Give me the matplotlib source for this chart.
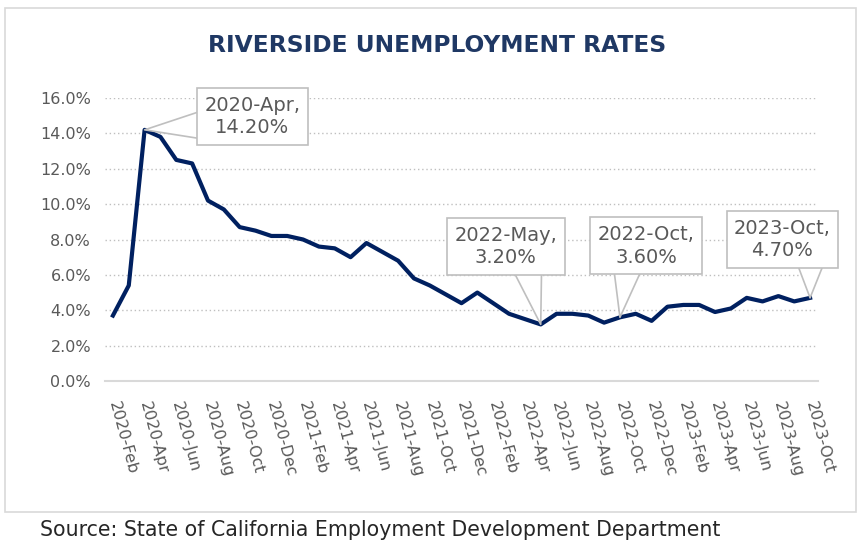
import matplotlib
matplotlib.use('Agg')
from matplotlib import pyplot as plt
from matplotlib.patches import Rectangle

# monthly rates, 2020-Feb .. 2023-Oct
months = ['Jan', 'Feb', 'Mar', 'Apr', 'May', 'Jun',
          'Jul', 'Aug', 'Sep', 'Oct', 'Nov', 'Dec']
rates2020 = [3.7, 5.4, 14.2, 13.8, 12.5, 12.3, 10.2, 9.7, 8.7, 8.5, 8.2]
rates2021 = [8.2, 8.0, 7.6, 7.5, 7.0, 7.8, 7.3, 6.8, 5.8, 5.4, 4.9, 4.4]
rates2022 = [5.0, 4.4, 3.8, 3.5, 3.2, 3.8, 3.8, 3.7, 3.3, 3.6, 3.8, 3.4]
rates2023 = [4.2, 4.3, 4.3, 3.9, 4.1, 4.7, 4.5, 4.8, 4.5, 4.7]

rates = rates2020 + rates2021 + rates2022 + rates2023
labels = []
for year, start, count in [(2020, 1, 11), (2021, 0, 12), (2022, 0, 12), (2023, 0, 10)]:
    for m in range(start, start + count):
        labels.append('%d-%s' % (year, months[m]))

# callouts: (label, text offset in months, text y in %, pointer base on box)
callouts = [('2020-Apr', 6.8, 14.95, (0.0, 0.3)),
            ('2022-May', -2.2, 7.6, (0.71, 0.0)),
            ('2022-Oct', 1.65, 7.65, (0.31, 0.0)),
            ('2023-Oct', -1.75, 8.0, (0.79, 0.0))]

navy = '#002060'
gray = '#595959'

fig = plt.figure(figsize=(8.59, 5.46), dpi=100)
fig.patches.append(Rectangle((5 / 859, 1 - 512 / 546), 851 / 859, 504 / 546,
                             transform=fig.transFigure, fill=False,
                             ec='#d9d9d9', lw=1.2))
ax = fig.add_axes([105 / 859, 165 / 546, 713 / 859, 283 / 546])

x = list(range(len(rates)))
ax.plot(x, rates, color=navy, lw=3, solid_joinstyle='round', zorder=3)

ax.set_xlim(-0.5, len(rates) - 0.5)
ax.set_ylim(0, 16)
ax.set_yticks(range(0, 17, 2))
ax.set_yticklabels(['%.1f%%' % v for v in range(0, 17, 2)])
for v in range(2, 17, 2):
    ax.axhline(v, color='#bfbfbf', lw=1.0, ls=(0, (1, 2)), zorder=1)

ax.set_xticks(x[::2])
ax.set_xticklabels(labels[::2], rotation=-75, ha='left', va='center',
                   rotation_mode='anchor')

for s in ['top', 'right', 'left']:
    ax.spines[s].set_visible(False)
ax.spines['bottom'].set_color('#d9d9d9')
ax.spines['bottom'].set_linewidth(1.5)
ax.tick_params(axis='both', length=0, colors=gray, labelsize=11.5)
ax.tick_params(axis='y', pad=10)
ax.tick_params(axis='x', pad=15)

for name, dx, ty, rel in callouts:
    i = labels.index(name)
    ax.annotate('%s,\n%.2f%%' % (name, rates[i]), xy=(i, rates[i]),
                xytext=(i + dx, ty), ha='center', va='center',
                fontsize=14, color=gray, linespacing=1.25,
                bbox=dict(boxstyle='square,pad=0.38', fc='white',
                          ec='#bfbfbf', lw=1.2),
                arrowprops=dict(arrowstyle='wedge,tail_width=1.5',
                                fc='white', ec='#bfbfbf', lw=1.2,
                                shrinkA=0, shrinkB=0, patchA=None,
                                relpos=rel),
                zorder=5)

fig.text(437 / 859, 1 - 45 / 546, 'RIVERSIDE UNEMPLOYMENT RATES', ha='center',
         va='center', fontsize=16.8, fontweight='bold', color='#1f3864')
fig.text(40 / 859, 1 - 530 / 546,
         'Source: State of California Employment Development Department',
         ha='left', va='center', fontsize=14.8, color='#262626')

fig.savefig('out.png', dpi=100)
